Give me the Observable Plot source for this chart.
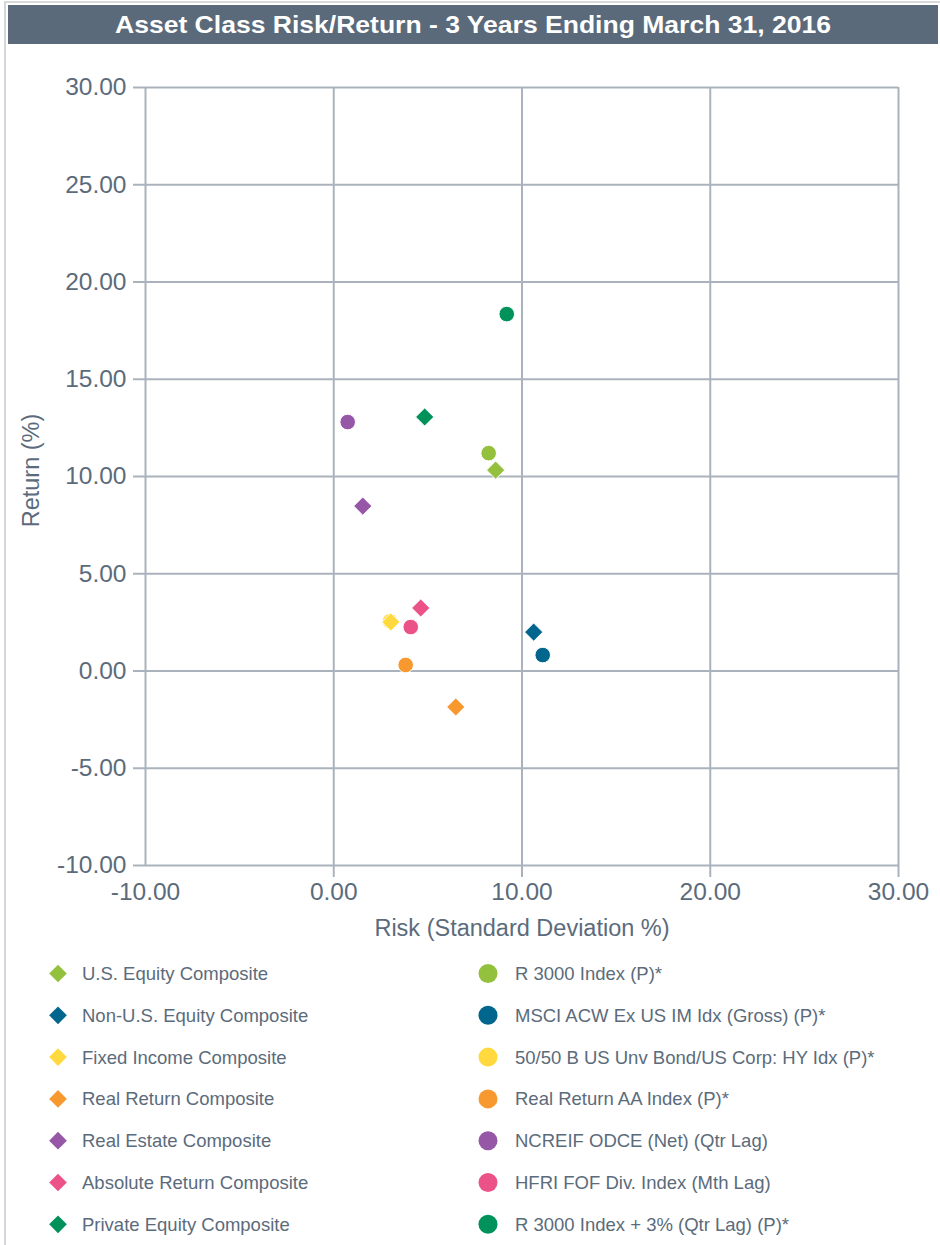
<!DOCTYPE html>
<html><head><meta charset="utf-8">
<script src="https://cdn.jsdelivr.net/npm/d3@7"></script>
<script src="https://cdn.jsdelivr.net/npm/@observablehq/plot@0.6"></script>
<style>
body{margin:0;background:#fff;font-family:"Liberation Sans",Arial,sans-serif;overflow:hidden;}
#frame{position:absolute;left:4px;top:1px;width:960px;height:1270px;border-left:2px solid #d3d6db;border-top:2px solid #d9d9d9;}
#title{position:absolute;left:8px;top:5px;width:930px;height:39px;background:#5a6a7a;}
#chart{position:absolute;left:0;top:45px;}
#legend{position:absolute;left:0;top:950px;}
</style></head>
<body>
<div id="frame"></div>
<div id="title"><svg width="930" height="39"><text x="465" y="27.5" text-anchor="middle" fill="#ffffff" font-weight="bold" font-size="24" font-family="Liberation Sans, Arial, sans-serif" textLength="716" lengthAdjust="spacingAndGlyphs">Asset Class Risk/Return - 3 Years Ending March 31, 2016</text></svg></div>
<div id="chart"></div>
<div id="legend"></div>
<script>
// ---- data ----
const compositeNames = ["U.S. Equity Composite","Non-U.S. Equity Composite","Fixed Income Composite","Real Return Composite","Real Estate Composite","Absolute Return Composite","Private Equity Composite"];
const compositeRisk = [8.60, 10.62, 3.03, 6.48, 1.54, 4.62, 4.83];
const compositeReturn = [10.33, 2.00, 2.52, -1.85, 8.48, 3.24, 13.06];
const indexNames = ["R 3000 Index (P)*","MSCI ACW Ex US IM Idx (Gross) (P)*","50/50 B US Unv Bond/US Corp: HY Idx (P)*","Real Return AA Index (P)*","NCREIF ODCE (Net) (Qtr Lag)","HFRI FOF Div. Index (Mth Lag)","R 3000 Index + 3% (Qtr Lag) (P)*"];
const indexRisk = [8.23, 11.10, 2.99, 3.82, 0.74, 4.09, 9.19];
const indexReturn = [11.20, 0.82, 2.56, 0.31, 12.80, 2.26, 18.35];
const colors = ["#93c13e","#00668e","#ffd93d","#f7992f","#9657a7","#eb5388","#00925a"];
const xTicks = [-10, 0, 10, 20, 30];
const yTicks = [-10, -5, 0, 5, 10, 15, 20, 25, 30];
const xLabel = "Risk (Standard Deviation %)";
const yLabel = "Return (%)";

const GRID = "#aab3bd";
const TEXT = "#5b6b7b";
const FONT = "Liberation Sans, Arial, sans-serif";
const fmt = d => d.toFixed(2);

const composites = compositeNames.map((name, i) => ({name, risk: compositeRisk[i], ret: compositeReturn[i], color: colors[i]}));
const indices = indexNames.map((name, i) => ({name, risk: indexRisk[i], ret: indexReturn[i], color: colors[i]}));

const chart = Plot.plot({
  width: 940, height: 905,
  marginTop: 42, marginBottom: 85, marginLeft: 145, marginRight: 42,
  style: {fontFamily: FONT, color: TEXT, background: "transparent", overflow: "visible"},
  x: {domain: [-10, 30]},
  y: {domain: [-10, 30]},
  color: {type: "identity"},
  marks: [
    Plot.gridX(xTicks, {stroke: GRID, strokeOpacity: 1, strokeWidth: 2}),
    Plot.gridY(yTicks, {stroke: GRID, strokeOpacity: 1, strokeWidth: 2}),
    Plot.axisY(yTicks, {tickSize: 12, tickPadding: 7, tickFormat: fmt, fontSize: 24.5, stroke: GRID, strokeWidth: 2, label: null}),
    Plot.axisX(xTicks.filter(d => d !== -10), {tickSize: 12, tickFormat: () => "", stroke: GRID, strokeWidth: 2, label: null}),
    Plot.axisX(xTicks, {tickSize: 0, tickPadding: 17, tickFormat: fmt, fontSize: 24.5, label: null}),
    Plot.text([xLabel], {text: d => d, frameAnchor: "bottom", textAnchor: "middle", dy: 63, fontSize: 23.5, lineAnchor: "middle", fill: TEXT}),
    Plot.text([yLabel], {text: d => d, frameAnchor: "left", textAnchor: "middle", dx: -114, dy: -6, rotate: -90, fontSize: 23.5, lineAnchor: "middle", fill: TEXT}),
    Plot.dot(indices, {x: "risk", y: "ret", r: 7.8, symbol: "circle", fill: "color", stroke: "white", strokeWidth: 1}),
    Plot.dot(composites, {x: "risk", y: "ret", r: 8.2, symbol: "diamond2", fill: "color", stroke: "white", strokeWidth: 1})
  ]
});
document.getElementById("chart").appendChild(chart);

// ---- legend ----
const leg = d3.select("#legend").append("svg").attr("width", 940).attr("height", 295)
  .style("font-family", FONT);
const rowY = i => 23.5 + 41.8 * i;
const diamond = d3.symbol(d3.symbolDiamond2, 200)();
composites.forEach((d, i) => {
  leg.append("path").attr("d", diamond).attr("transform", `translate(58,${rowY(i)})`).attr("fill", d.color);
  leg.append("text").attr("x", 82).attr("y", rowY(i) + 6.5).attr("font-size", 18.5).attr("fill", TEXT).text(d.name);
});
indices.forEach((d, i) => {
  leg.append("circle").attr("cx", 488).attr("cy", rowY(i)).attr("r", 9.5).attr("fill", d.color);
  leg.append("text").attr("x", 515).attr("y", rowY(i) + 6.5).attr("font-size", 18.5).attr("fill", TEXT).text(d.name);
});
</script>
</body></html>
